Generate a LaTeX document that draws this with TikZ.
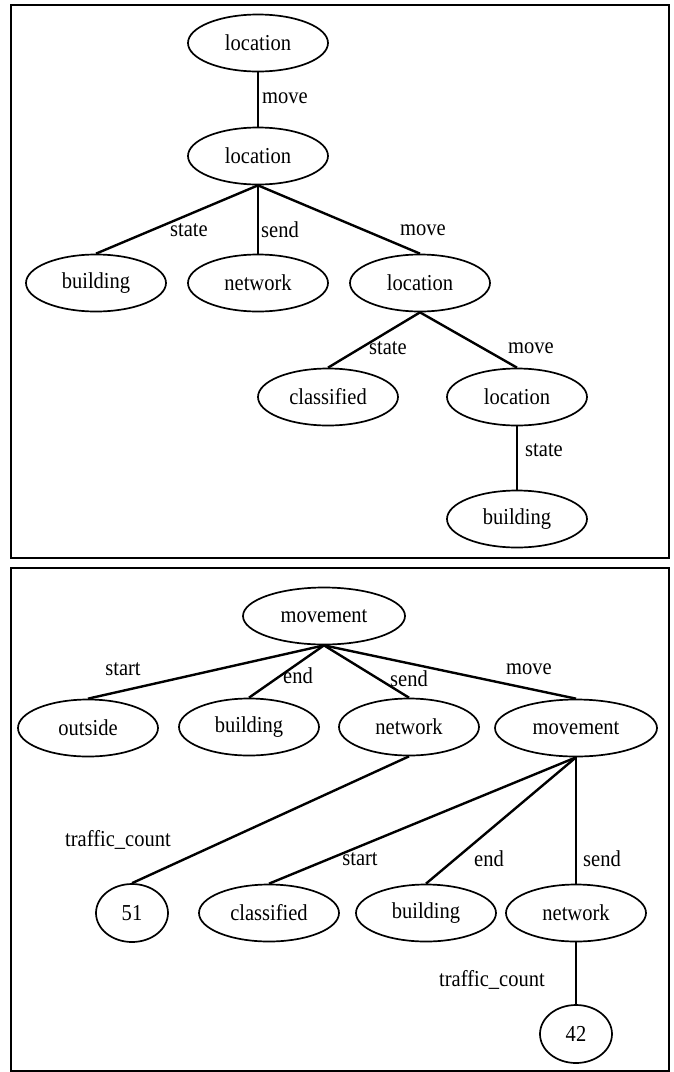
\documentclass[tikz,border=0pt]{standalone}
\usepackage{fontspec}
\setmainfont{Liberation Serif}[FakeStretch=0.9]
\usepackage{tikz}
\usetikzlibrary{shapes.geometric}

\begin{document}
\begin{tikzpicture}[x=1pt,y=-1pt,
        every node/.style={font=\fontsize{22.8}{27}\selectfont},
        vertex/.style={draw,ellipse,line width=1.7pt,minimum width=140pt,minimum height=57pt,inner sep=0pt},
        wide/.style={vertex,minimum width=162pt},
        leaf/.style={vertex,minimum width=72pt,minimum height=58pt},
        edge/.style={line width=2.4pt},
        lbl/.style={inner sep=0pt}]
        \useasboundingbox (0,0) rectangle (674,1072);
        \draw[line width=1.7pt] (11,5) rectangle (669,558);
        \draw[line width=1.7pt] (11,568) rectangle (669,1071);

        % upper tree
        \node[vertex] (loc1) at (258,43) {location};
        \node[vertex] (loc2) at (258,156) {location};
        \node[vertex] (bld1) at (96,283) {building};
        \node[vertex] (net1) at (258,283) {network};
        \node[vertex] (loc3) at (420,283) {location};
        \node[vertex] (cls1) at (328,397) {classified};
        \node[vertex] (loc4) at (517,397) {location};
        \node[vertex] (bld2) at (517,519) {building};

        \foreach \a/\b in {loc1/loc2,loc2/bld1,loc2/net1,loc2/loc3,loc3/cls1,loc3/loc4,loc4/bld2}{% edges
            \draw[edge] (\a.south) -- (\b.north);
        }

        \node[lbl] (la) at (285,98) {move};
        \node[lbl] (lb) at (189,230) {state};
        \node[lbl] (lc) at (280,230) {send};
        \node[lbl] (ld) at (423,230) {move};
        \node[lbl] (le) at (388,348) {state};
        \node[lbl] (lf) at (531,348) {move};
        \node[lbl] (lg) at (544,450) {state};

        % lower tree
        \node[wide] (mov1) at (324,616) {movement};
        \node[vertex] (out1) at (88,728) {outside};
        \node[vertex] (bld3) at (249,727) {building};
        \node[vertex] (net2) at (409,727) {network};
        \node[wide] (mov2) at (576,728) {movement};
        \node[leaf] (n51) at (132,913) {51};
        \node[vertex] (cls2) at (269,913) {classified};
        \node[vertex] (bld4) at (426,913) {building};
        \node[vertex] (net3) at (576,913) {network};
        \node[leaf] (n42) at (576,1034) {42};

        \foreach \a/\b in {mov1/out1,mov1/bld3,mov1/net2,mov1/mov2,net2/n51,mov2/cls2,mov2/bld4,mov2/net3,net3/n42}{% edges
            \draw[edge] (\a.south) -- (\b.north);
        }

        \node[lbl] (lh) at (123,669) {start};
        \node[lbl] (li) at (298,676) {end};
        \node[lbl] (lj) at (409,679) {send};
        \node[lbl] (lk) at (529,669) {move};
        \node[lbl] (ll) at (118,840) {traffic\_count};
        \node[lbl] (lm) at (360,859) {start};
        \node[lbl] (ln) at (489,859) {end};
        \node[lbl] (lo) at (602,859) {send};
        \node[lbl] (lp) at (492,980) {traffic\_count};
    \end{tikzpicture}
\end{document}
